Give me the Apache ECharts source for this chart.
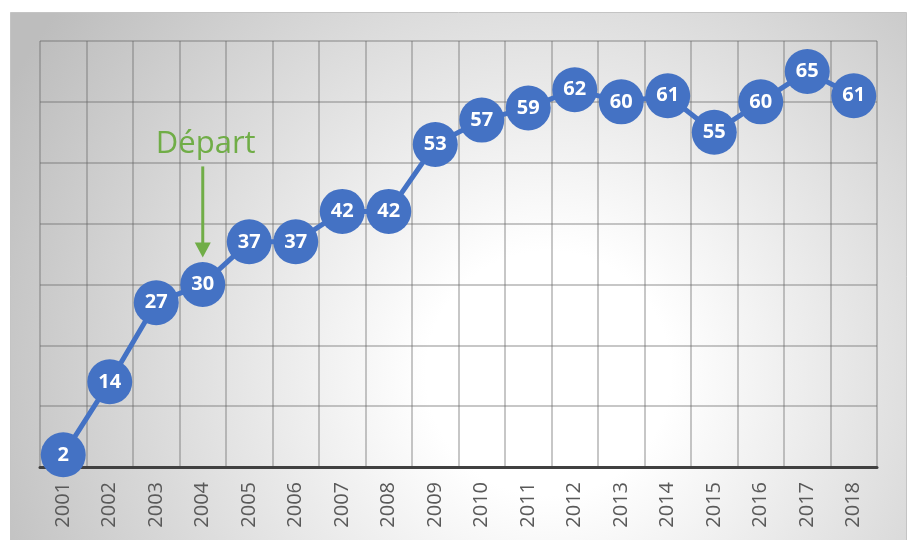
<!DOCTYPE html>
<html><head><meta charset="utf-8">
<script src="https://cdn.jsdelivr.net/npm/echarts@6/dist/echarts.min.js"></script>
<style>html,body{margin:0;padding:0;background:#fff}#c{width:912px;height:540px}</style>
</head><body><div id="c"></div>
<script>
const years = ['2001','2002','2003','2004','2005','2006','2007','2008','2009','2010','2011','2012','2013','2014','2015','2016','2017','2018'];
const values = [2,14,27,30,37,37,42,42,53,57,59,62,60,61,55,60,65,61];
const yTicks = {min:0, max:70, interval:10};
const annotation = {label:'Départ', index:3};

const chart = echarts.init(document.getElementById('c'));
const blue = '#4472C4';
chart.setOption({
  animation:false,
  graphic:[{
    type:'rect', z:-10, silent:true,
    shape:{x:10.5,y:12.5,width:896,height:530},
    style:{
      fill:{type:'radial',x:0.6,y:0.68,r:1.15,colorStops:[{offset:0,color:'#ffffff'},{offset:0.2,color:'#ffffff'},{offset:1,color:'#bdbdbd'}]},
      stroke:'#c4c4c4', lineWidth:1
    }
  }],
  grid:{left:40,right:35,top:41,bottom:73},
  xAxis:{
    type:'category', data:years, boundaryGap:true,
    axisLine:{show:true,lineStyle:{color:'#404040',width:3}},
    axisTick:{show:false},
    axisLabel:{rotate:90,color:'#595959',fontSize:20,fontFamily:'Open Sans',margin:15,interval:0},
    splitLine:{show:true,interval:0,lineStyle:{color:'rgba(100,100,100,0.36)',width:2}}
  },
  yAxis:{
    type:'value', min:yTicks.min, max:yTicks.max, interval:yTicks.interval,
    axisLabel:{show:false}, axisLine:{show:false}, axisTick:{show:false},
    splitLine:{show:true,lineStyle:{color:'rgba(100,100,100,0.36)',width:2}}
  },
  series:[{
    type:'line', data:values,
    lineStyle:{color:blue,width:5},
    itemStyle:{color:blue},
    symbol:'circle', symbolSize:45, showAllSymbol:true,
    label:{show:true,position:'inside',color:'#fff',fontWeight:'bold',fontSize:20,fontFamily:'Open Sans'}
  }]
});

const p = chart.convertToPixel({gridIndex:0},[annotation.index, values[annotation.index]]);
const cx = p[0], tip = p[1]-27;
chart.setOption({graphic:[{},
  {type:'text', z:10, style:{text:annotation.label, x:cx+3, y:tip-113, textAlign:'center', textVerticalAlign:'middle', fill:'#70AD47', fontSize:31, fontFamily:'Open Sans'}},
  {type:'line', z:10, shape:{x1:cx, y1:tip-91, x2:cx, y2:tip-14}, style:{stroke:'#70AD47', lineWidth:3}},
  {type:'polygon', z:10, shape:{points:[[cx-8,tip-15],[cx+8,tip-15],[cx,tip]]}, style:{fill:'#70AD47'}}
]});
</script></body></html>
